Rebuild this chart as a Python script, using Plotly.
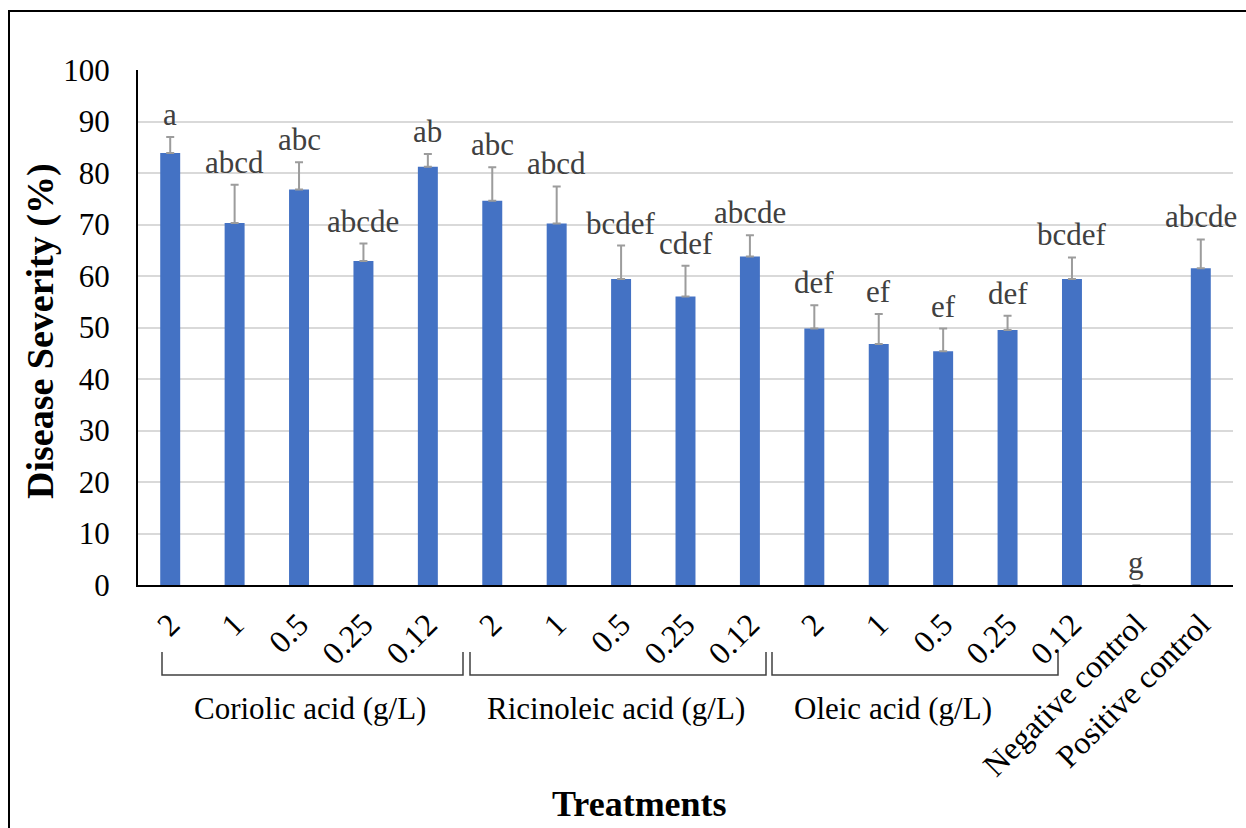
import plotly.graph_objects as go

# ---- data ----
tick_labels = ["2", "1", "0.5", "0.25", "0.12",
               "2", "1", "0.5", "0.25", "0.12",
               "2", "1", "0.5", "0.25", "0.12",
               "Negative control", "Positive control"]
severity = [83.9, 70.3, 76.8, 62.9, 81.2,
            74.6, 70.2, 59.4, 56.0, 63.8,
            49.8, 46.8, 45.4, 49.5, 59.4,
            0.0, 61.5]
error_up = [3.1, 7.4, 5.3, 3.4, 2.5,
            6.5, 7.2, 6.5, 6.0, 4.1,
            4.5, 5.8, 4.4, 2.8, 4.2,
            0.0, 5.6]
letters = ["a", "abcd", "abc", "abcde", "ab",
           "abc", "abcd", "bcdef", "cdef", "abcde",
           "def", "ef", "ef", "def", "bcdef",
           "g", "abcde"]
group_labels = ["Coriolic acid (g/L)", "Ricinoleic acid (g/L)", "Oleic acid (g/L)"]
y_ticks = [0, 10, 20, 30, 40, 50, 60, 70, 80, 90, 100]

FONT = "Liberation Serif, Times New Roman, serif"
W, H = 1246, 828
L, R, T, B = 138, 1233, 70, 585  # plot area in pixels


def px_x(p):
    return (p - L) / (R - L)


def px_y(p):
    return (B - p) / (B - T)


x = list(range(len(tick_labels)))

fig = go.Figure()
fig.add_trace(go.Bar(
    x=x, y=severity,
    marker=dict(color="#4472C4", line=dict(width=0)),
    width=0.31,
    error_y=dict(type="data", symmetric=False, array=error_up,
                 arrayminus=[0] * len(error_up),
                 color="#9c9c9c", thickness=2, width=4),
    showlegend=False,
))

# significance letters
for xi, v, e, t in zip(x, severity, error_up, letters):
    fig.add_annotation(x=xi, y=v + e, text=t, showarrow=False,
                       xanchor="center", yanchor="bottom", yshift=3,
                       font=dict(family=FONT, size=31, color="#404040"))

# brackets under groups (pixel positions)
brackets = [(162, 463), (470, 766), (772, 1058)]
centers = [310, 616, 893]
for (a, b), c, lab in zip(brackets, centers, group_labels):
    path = "M {x0},{y0} L {x0},{y1} L {x1},{y1} L {x1},{y0}".format(
        x0=px_x(a), x1=px_x(b), y0=px_y(652), y1=px_y(675))
    fig.add_shape(type="path", path=path, xref="paper", yref="paper",
                  line=dict(color="#404040", width=1.5))
    fig.add_annotation(x=px_x(c), y=px_y(708), xref="paper", yref="paper",
                       text=lab, showarrow=False, xanchor="center", yanchor="middle",
                       font=dict(family=FONT, size=31, color="black"))

# axis titles
fig.add_annotation(x=px_x(40), y=px_y(331), xref="paper", yref="paper",
                   text="<b>Disease Severity (%)</b>", textangle=-90, showarrow=False,
                   xanchor="center", yanchor="middle",
                   font=dict(family=FONT, size=38, color="black"))
fig.add_annotation(x=px_x(639), y=px_y(804), xref="paper", yref="paper",
                   text="<b>Treatments</b>", showarrow=False,
                   xanchor="center", yanchor="middle",
                   font=dict(family=FONT, size=36, color="black"))

# outer frame
fig.add_shape(type="rect", xref="paper", yref="paper",
              x0=px_x(9), x1=px_x(1260), y0=px_y(840), y1=px_y(11),
              line=dict(color="black", width=2))

fig.update_layout(
    width=W, height=H,
    margin=dict(l=L, r=W - R, t=T, b=H - B),
    paper_bgcolor="white", plot_bgcolor="white",
    font=dict(family=FONT, color="black"),
)
fig.update_xaxes(
    range=[-0.5, len(x) - 0.5], tickmode="array", tickvals=x, ticktext=tick_labels,
    tickangle=-45, tickfont=dict(family=FONT, size=32, color="black"),
    showline=True, linecolor="black", linewidth=2, showgrid=False,
    ticks="", ticklabelstandoff=6, zeroline=False,
)
fig.update_yaxes(
    range=[0, 100], tickmode="array", tickvals=y_ticks,
    tickfont=dict(family=FONT, size=31, color="black"),
    showline=True, linecolor="black", linewidth=2,
    showgrid=True, gridcolor="#d9d9d9", gridwidth=2,
    ticks="", ticklabelstandoff=20, zeroline=False,
)

fig.write_html("out.html")
